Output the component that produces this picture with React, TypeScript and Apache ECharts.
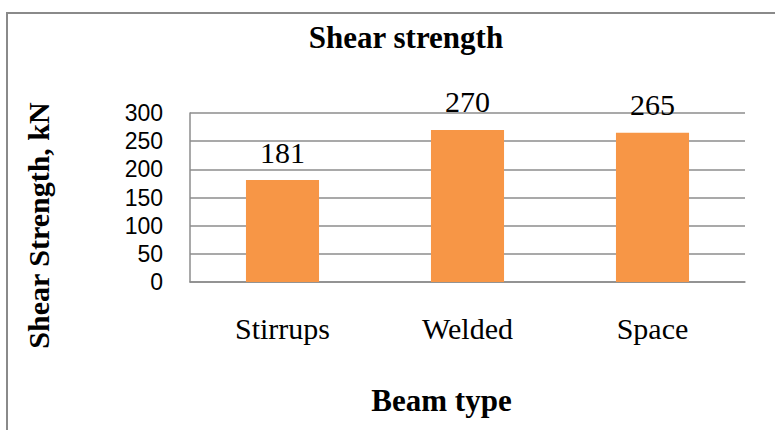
import React, { useEffect, useRef } from "react";
import * as echarts from "echarts";

const categories = ["Stirrups", "Welded", "Space"];
const shearStrength = [181, 270, 265];
const yTicks = { min: 0, max: 300, interval: 50 };
const titleText = "Shear strength";
const xName = "Beam type";
const yName = "Shear Strength, kN";

export default function App() {
  const ref = useRef<HTMLDivElement>(null);
  useEffect(() => {
    document.body.style.margin = "0";
    const chart = echarts.init(ref.current!, null, { renderer: "svg" });
    const serif = "'Liberation Serif', 'Times New Roman', serif";
    const gridColor = "#8c8c8c";
    chart.setOption({
      animation: false,
      backgroundColor: "#ffffff",
      title: {
        text: titleText,
        left: 401,
        textAlign: "center",
        top: 17,
        textStyle: { fontFamily: serif, fontWeight: "bold", fontSize: 31, color: "#000" },
      },
      graphic: [
        {
          type: "rect",
          shape: { x: 7, y: 13, width: 820, height: 460 },
          style: { fill: "none", stroke: "#8a8a8a", lineWidth: 2 },
          silent: true,
        },
      ],
      grid: { left: 190, right: 30, top: 113, bottom: 148, containLabel: false },
      xAxis: {
        type: "category",
        data: categories,
        name: xName,
        nameLocation: "middle",
        nameGap: 103,
        nameTextStyle: {
          fontFamily: serif,
          fontWeight: "bold",
          fontSize: 31,
          color: "#000",
          verticalAlign: "top",
          padding: [0, 52, 0, 0],
        },
        axisLine: { show: true, lineStyle: { color: gridColor, width: 1.5 } },
        axisTick: { show: false },
        axisLabel: { fontFamily: serif, fontSize: 30, color: "#000", margin: 31 },
      },
      yAxis: {
        type: "value",
        min: yTicks.min,
        max: yTicks.max,
        interval: yTicks.interval,
        name: yName,
        nameLocation: "middle",
        nameRotate: 90,
        nameGap: 137,
        nameTextStyle: {
          fontFamily: serif,
          fontWeight: "bold",
          fontSize: 30,
          color: "#000",
          padding: [0, 56, 0, 0],
        },
        axisLine: { show: true, lineStyle: { color: gridColor, width: 1.5 } },
        axisTick: { show: false },
        axisLabel: {
          fontFamily: "'Liberation Sans', Arial, sans-serif",
          fontSize: 23,
          color: "#000",
          margin: 27,
        },
        splitLine: { show: true, lineStyle: { color: gridColor, width: 1.5 } },
      },
      series: [
        {
          type: "bar",
          data: shearStrength,
          barWidth: "39.5%",
          itemStyle: { color: "#F79646" },
          label: {
            show: true,
            position: "top",
            distance: 13,
            fontFamily: serif,
            fontSize: 30,
            color: "#000",
          },
        },
      ],
    });
    return () => chart.dispose();
  }, []);
  return <div ref={ref} style={{ width: 775, height: 430 }} />;
}
